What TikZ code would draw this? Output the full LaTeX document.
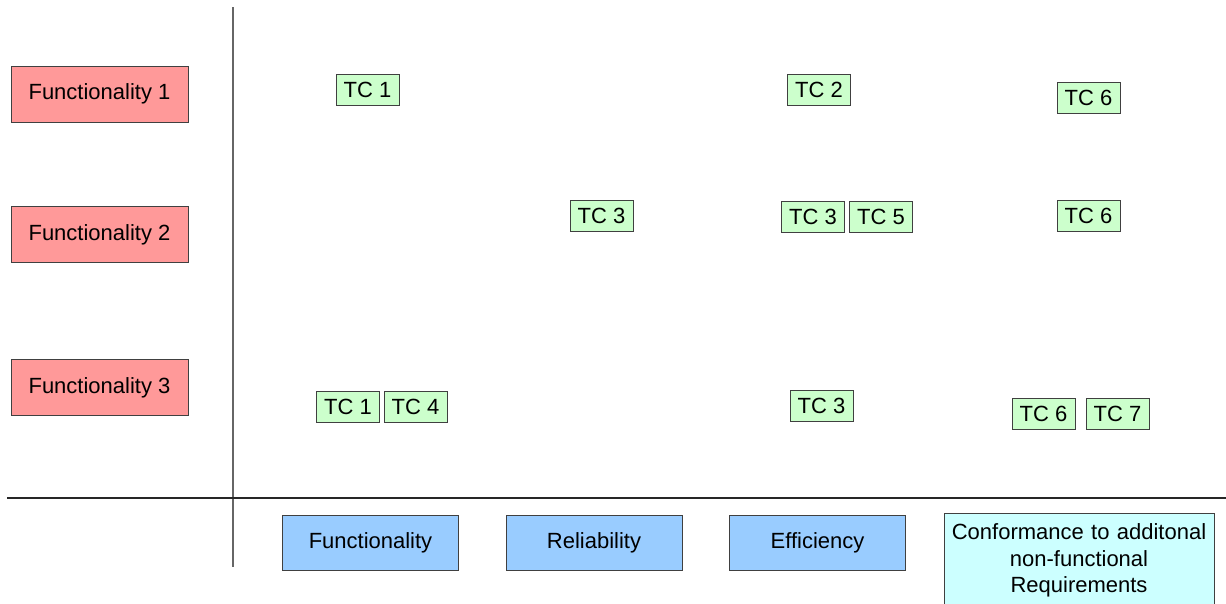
\documentclass[tikz,border=0pt]{standalone}
\usepackage{fontspec}
\setmainfont{Liberation Sans}
\usepackage{xcolor}
\usetikzlibrary{positioning}

\definecolor{funcred}{HTML}{FF9999}
\definecolor{tcgreen}{HTML}{CCFFCC}
\definecolor{charblue}{HTML}{99CCFF}
\definecolor{confcyan}{HTML}{CCFFFF}
\definecolor{boxline}{HTML}{404040}

\begin{document}
\begin{tikzpicture}[
    x=1pt, y=-1pt,
    funcbox/.style = {
        rectangle, draw=boxline, fill=funcred, line width=0.9pt,
        minimum width=177pt, minimum height=56pt, inner sep=0pt,
        font=\fontsize{22}{25}\selectfont
    },
    tcbox/.style = {
        rectangle, draw=boxline, fill=tcgreen, line width=0.9pt,
        minimum width=63pt, minimum height=31pt, inner sep=0pt,
        font=\fontsize{22}{25}\selectfont
    },
    charbox/.style = {
        rectangle, draw=boxline, fill=charblue, line width=0.9pt,
        minimum width=176pt, minimum height=55pt, inner sep=0pt,
        font=\fontsize{22}{25}\selectfont
    },
    axis/.style = {line width=1.6pt}
]

\clip (0,0) rectangle (1226,603);
\fill[white] (0,0) rectangle (1226,603);

% ── Axes ──
\coordinate (vtop) at (233,7);
\coordinate (vbot) at (233,567);
\coordinate (hleft) at (7,498);
\coordinate (hright) at (1226,498);
\draw[axis, color=gray!80!black] (vtop) -- (vbot);
\draw[axis, color=black!85] (hleft) -- (hright);

% ── Functionalities ──
\node[funcbox] (func1) at (99.5,94)  {Functionality 1};
\node[funcbox] (func2) at (99.5,234.5) {Functionality 2};
\node[funcbox] (func3) at (99.5,387.5) {Functionality 3};

% ── Characteristics ──
\node[charbox] (cfunc) at (370.5,543) {Functionality};
\node[charbox] (crel)  at (594,543)   {Reliability};
\node[charbox] (ceff)  at (817.5,543) {Efficiency};
\node[rectangle, draw=boxline, fill=confcyan, line width=0.9pt, anchor=north,
      minimum width=270pt, minimum height=94pt, inner xsep=0pt, inner ysep=0pt,
      text width=266pt, align=center, font=\fontsize{22}{26.5}\selectfont]
      (cconf) at (1079,513) {Conformance to additonal\\non-functional\\Requirements};

% ── Test cases: row 1 ──
\node[tcbox] (tca1) at (367.5,89.5) {TC 1};
\node[tcbox] (tca2) at (819,89.5)   {TC 2};
\node[tcbox] (tca6) at (1088.5,97.5) {TC 6};

% ── Test cases: row 2 ──
\node[tcbox] (tcb3) at (601.5,216) {TC 3};
\node[tcbox] (tcc3) at (813,216.5) {TC 3};
\node[tcbox] (tcc5) at (881,216.5) {TC 5};
\node[tcbox] (tcb6) at (1088.5,216) {TC 6};

% ── Test cases: row 3 ──
\node[tcbox] (tcd1) at (348,406.5)   {TC 1};
\node[tcbox] (tcd4) at (415.5,406.5) {TC 4};
\node[tcbox] (tcd3) at (821.5,405.5) {TC 3};
\node[tcbox] (tcd6) at (1043.5,413.5) {TC 6};
\node[tcbox] (tcd7) at (1117.5,413.5) {TC 7};

\end{tikzpicture}
\end{document}
